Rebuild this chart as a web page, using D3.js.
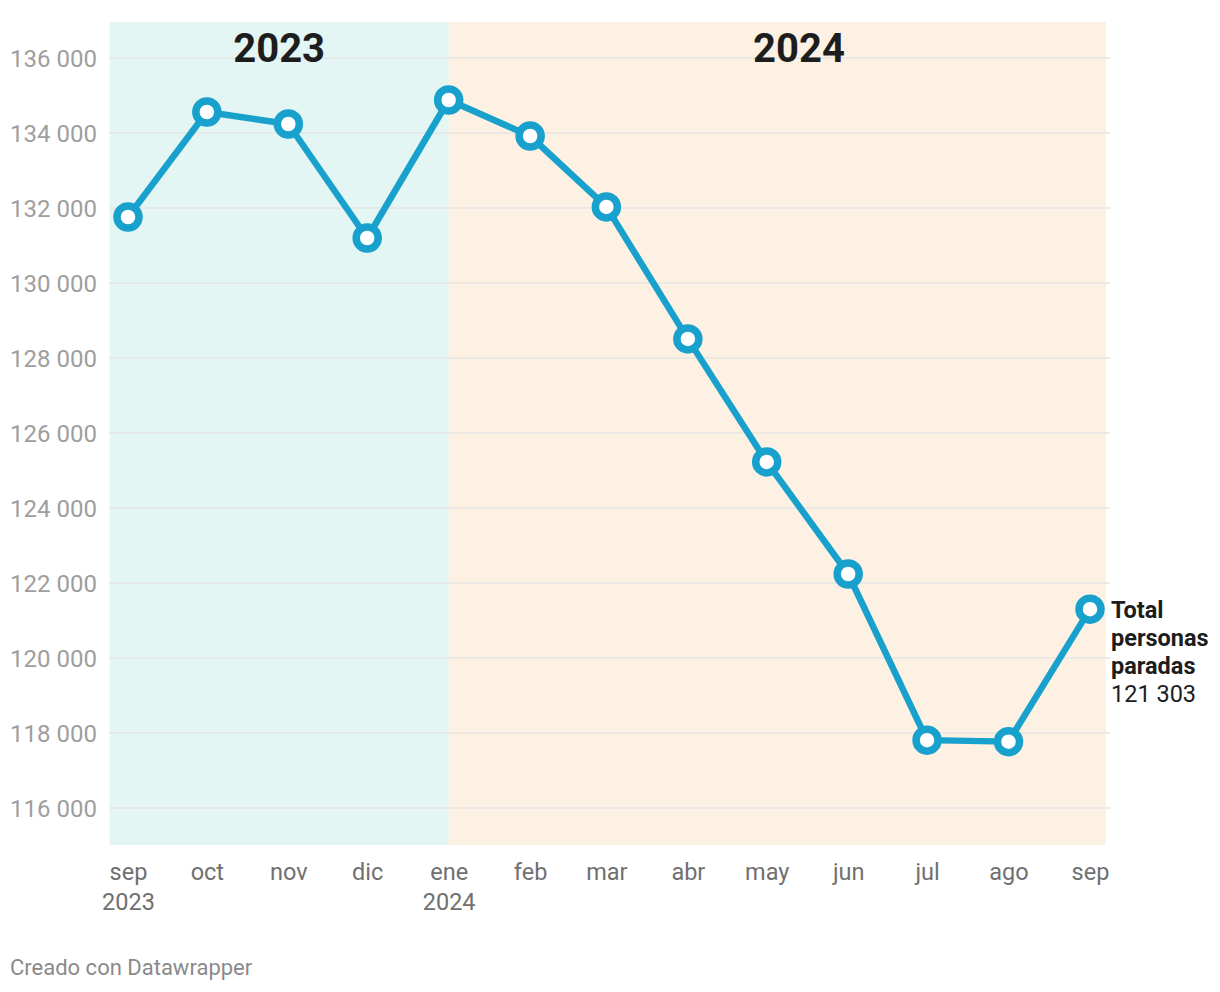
<!DOCTYPE html>
<html><head><meta charset="utf-8">
<script src="https://cdn.jsdelivr.net/npm/d3@7"></script>
<style>body{margin:0;background:#fff;font-family:Roboto,sans-serif}</style>
</head><body><svg id="c" width="1220" height="992"></svg>
<script>
const months = ["2023-09","2023-10","2023-11","2023-12","2024-01","2024-02","2024-03","2024-04","2024-05","2024-06","2024-07","2024-08","2024-09"];
const values = [131760,134560,134240,131200,134880,133920,132030,128510,125230,122240,117810,117770,121303];
const tickLabels = ["sep","oct","nov","dic","ene","feb","mar","abr","may","jun","jul","ago","sep"];
const tickYears = ["2023","","","","2024","","","","","","","",""];
const yTicks = [116000,118000,120000,122000,124000,126000,128000,130000,132000,134000,136000];
const periods = [{label:"2023", start:"2023-08-25", end:"2024-01-01", color:"#e3f6f3"},
                 {label:"2024", start:"2024-01-01", end:"2024-09-07", color:"#fdf1e3"}];

(function(){
const parse = d3.timeParse("%Y-%m-%d");
const pm = d3.timeParse("%Y-%m");
const dates = months.map(pm);
const svg = d3.select("#c");
const x = d3.scaleTime().domain([dates[0], dates[dates.length-1]]).range([128, 1090]);
const y = d3.scaleLinear().domain([116000, 136000]).range([808, 58]);
const plotTop = 22, plotBottom = 845;

// shading
svg.selectAll("rect.p").data(periods).join("rect")
  .attr("x", d => x(parse(d.start))).attr("width", d => x(parse(d.end)) - x(parse(d.start)))
  .attr("y", plotTop).attr("height", plotBottom - plotTop).attr("fill", d => d.color);

// grid + y axis
const yAxis = d3.axisLeft(y).tickValues(yTicks).tickSize(0).tickFormat(v => d3.format(",")(v).replace(/,/g, " "));
const gy = svg.append("g").attr("transform", "translate(97,0)").call(yAxis);
gy.select(".domain").remove();
gy.selectAll("text").attr("font-family", "Roboto").attr("font-size", 24).attr("fill", "#9e9e9e").attr("x", 0).attr("dy", "0.35em");
svg.selectAll("line.g").data(yTicks).join("line")
  .attr("x1", 109).attr("x2", 1110).attr("y1", d => y(d)).attr("y2", d => y(d))
  .attr("stroke", "#e6e6e6").attr("stroke-width", 1.6);

// period labels
svg.selectAll("text.pl").data(periods).join("text")
  .attr("x", (d,i) => i === 0 ? (x(parse(d.start)) + x(parse(d.end))) / 2 : 799)
  .attr("y", 62).attr("text-anchor", "middle")
  .attr("font-family", "Roboto").attr("font-weight", 700).attr("font-size", 40).attr("fill", "#1d1d1d")
  .text(d => d.label);

// x axis
const xAxis = d3.axisBottom(x).tickValues(dates).tickSize(0).tickFormat((d,i) => tickLabels[i]);
const gx = svg.append("g").attr("transform", "translate(0,860)").call(xAxis);
gx.select(".domain").remove();
gx.selectAll("text").attr("font-family", "Roboto").attr("font-size", 23.5).attr("fill", "#707070").attr("dy", null).attr("y", 20);
gx.selectAll(".tick").append("text")
  .attr("y", 50).attr("text-anchor", "middle")
  .attr("font-family", "Roboto").attr("font-size", 23.5).attr("fill", "#707070")
  .text((d,i) => tickYears[i]);

// line
const color = "#18a1cd";
svg.append("path").datum(values)
  .attr("d", d3.line().x((d,i) => x(dates[i])).y(d => y(d)))
  .attr("fill", "none").attr("stroke", color).attr("stroke-width", 6.5).attr("stroke-linejoin", "round");
svg.selectAll("circle.pt").data(values).join("circle")
  .attr("cx", (d,i) => x(dates[i])).attr("cy", d => y(d)).attr("r", 11)
  .attr("fill", "#fff").attr("stroke", color).attr("stroke-width", 7.5);

// end label
const last = values.length - 1;
const lx = x(dates[last]) + 21, ly = y(values[last]);
const lab = svg.append("text").attr("font-family", "Roboto").attr("font-size", 23.5).attr("fill", "#1d1d1d");
["Total","personas","paradas"].forEach((t,i) => lab.append("tspan").attr("x", lx).attr("y", ly + 9 + i*28).attr("font-weight", 700).text(t));
lab.append("tspan").attr("x", lx).attr("y", ly + 9 + 3*28).text(d3.format(",")(values[last]).replace(/,/g, " "));

// footer
svg.append("text").attr("x", 10).attr("y", 975).attr("font-family", "Roboto").attr("font-size", 22).attr("fill", "#8a8a8a").text("Creado con Datawrapper");
})();
</script></body></html>
